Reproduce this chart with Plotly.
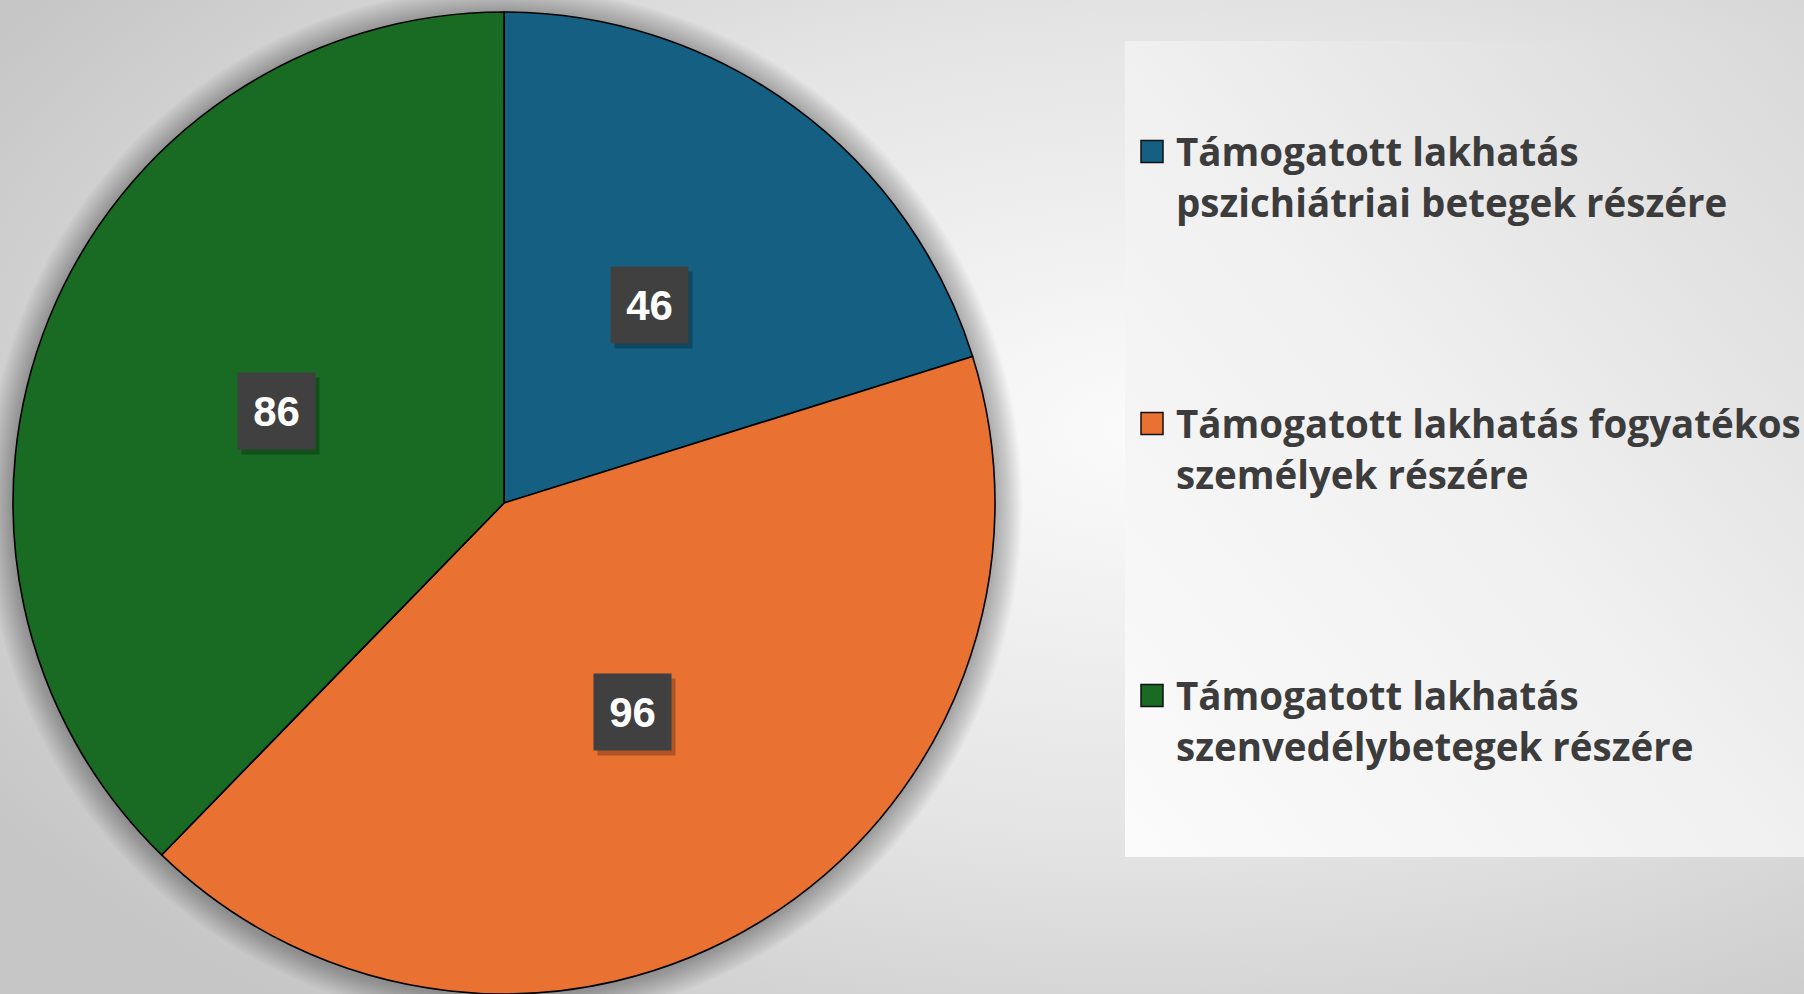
import base64
import math
import plotly.graph_objects as go

# ---------------- data ----------------
categories = [
    "Támogatott lakhatás<br>pszichiátriai betegek részére",
    "Támogatott lakhatás fogyatékos<br>személyek részére",
    "Támogatott lakhatás<br>szenvedélybetegek részére",
]
values = [46, 96, 86]
colors = ["#156082", "#E97132", "#196B24"]

# ---------------- geometry (pixels) ----------------
W, H = 1804, 994
CX, CY, R = 504, 503, 491          # pie centre / radius (from top-left)
LEG_X0, LEG_Y0, LEG_X1, LEG_Y1 = 1125, 41, 1804, 857
LEG_TEXT_X = 1174
LEG_FIRST_Y = 151
LEG_STEP = 272
LINE_GAP = 51
SQ = 22

def px(x):
    return x / W

def py(y):
    return 1 - y / H

# background SVG (radial gradient + legend box gradient)
svg = f'''<svg xmlns="http://www.w3.org/2000/svg" width="{W}" height="{H}" viewBox="0 0 {W} {H}">
<defs>
<radialGradient id="bg" cx="{1150/W}" cy="{430/H}" r="0.75" gradientUnits="objectBoundingBox">
<stop offset="0" stop-color="#fbfbfb"/>
<stop offset="0.55" stop-color="#e4e4e4"/>
<stop offset="1" stop-color="#c6c6c6"/>
</radialGradient>
<linearGradient id="box" x1="0" y1="1" x2="1" y2="0">
<stop offset="0" stop-color="#fbfbfb"/>
<stop offset="0.5" stop-color="#f0f0f0"/>
<stop offset="1" stop-color="#d9d9d9"/>
</linearGradient>
</defs>
<rect x="0" y="0" width="{W}" height="{H}" fill="url(#bg)"/>
<rect x="{LEG_X0}" y="{LEG_Y0}" width="{LEG_X1-LEG_X0}" height="{LEG_Y1-LEG_Y0}" fill="url(#box)"/>
</svg>'''
bg_uri = "data:image/svg+xml;base64," + base64.b64encode(svg.encode("utf-8")).decode("ascii")

fig = go.Figure()
fig.add_trace(go.Pie(
    labels=categories,
    values=values,
    sort=False,
    direction="clockwise",
    rotation=0,
    marker=dict(colors=colors, line=dict(color="#000000", width=1.6)),
    textinfo="none",
    hoverinfo="label+value",
    domain=dict(x=[px(CX - R), px(CX + R)], y=[py(CY + R), py(CY - R)]),
    showlegend=False,
))

shapes = []
# soft shadow around the pie
for k in range(16, 0, -1):
    rr = R + k * 1.7
    shapes.append(dict(
        type="circle", xref="paper", yref="paper", layer="below",
        x0=px(CX - rr), x1=px(CX + rr), y0=py(CY + rr + 2), y1=py(CY - rr + 2),
        fillcolor="rgba(0,0,0,0.018)", line=dict(width=0),
    ))

annotations = []
# data labels at half radius on each slice bisector
total = sum(values)
cum = 0
for v in values:
    mid = (cum + v / 2) / total * 2 * math.pi
    cum += v
    lx = CX + 0.5 * R * math.sin(mid)
    ly = CY - 0.5 * R * math.cos(mid)
    # shadow box
    annotations.append(dict(
        x=px(lx + 4), y=py(ly + 5), xref="paper", yref="paper", showarrow=False,
        text=" ", width=75, height=74, bgcolor="rgba(0,0,0,0.25)",
        font=dict(size=42), xanchor="center", yanchor="middle",
    ))
    annotations.append(dict(
        x=px(lx), y=py(ly), xref="paper", yref="paper", showarrow=False,
        text=f"<b>{v}</b>", width=75, height=74, bgcolor="#404040",
        font=dict(family="Liberation Sans, Arial", size=42, color="#ffffff"),
        xanchor="center", yanchor="middle",
    ))

# manual legend
for i, (lab, col) in enumerate(zip(categories, colors)):
    y0 = LEG_FIRST_Y + i * LEG_STEP
    shapes.append(dict(
        type="rect", xref="paper", yref="paper", layer="above",
        x0=px(1141), x1=px(1141 + SQ), y0=py(y0 + SQ / 2 + 0.5), y1=py(y0 - SQ / 2 + 0.5),
        fillcolor=col, line=dict(color="#111111", width=1.5),
    ))
    for j, line in enumerate(lab.split("<br>")):
        annotations.append(dict(
            x=px(LEG_TEXT_X), y=py(y0 + j * LINE_GAP), xref="paper", yref="paper",
            showarrow=False, xanchor="left", yanchor="middle",
            text=f"<b>{line}</b>",
            font=dict(family="Open Sans, sans-serif", size=38.5, color="#3c3c3c"),
        ))

fig.update_layout(
    width=W, height=H, autosize=False,
    margin=dict(l=0, r=0, t=0, b=0),
    paper_bgcolor="#e2e2e2",
    plot_bgcolor="rgba(0,0,0,0)",
    images=[dict(source=bg_uri, xref="paper", yref="paper", x=0, y=1,
                 sizex=1, sizey=1, xanchor="left", yanchor="top",
                 sizing="stretch", layer="below")],
    shapes=shapes,
    annotations=annotations,
)

fig.write_html(
    "out.html",
    config={"displayModeBar": False},
    post_script="document.body.style.margin='0';document.body.style.overflow='hidden';",
)
